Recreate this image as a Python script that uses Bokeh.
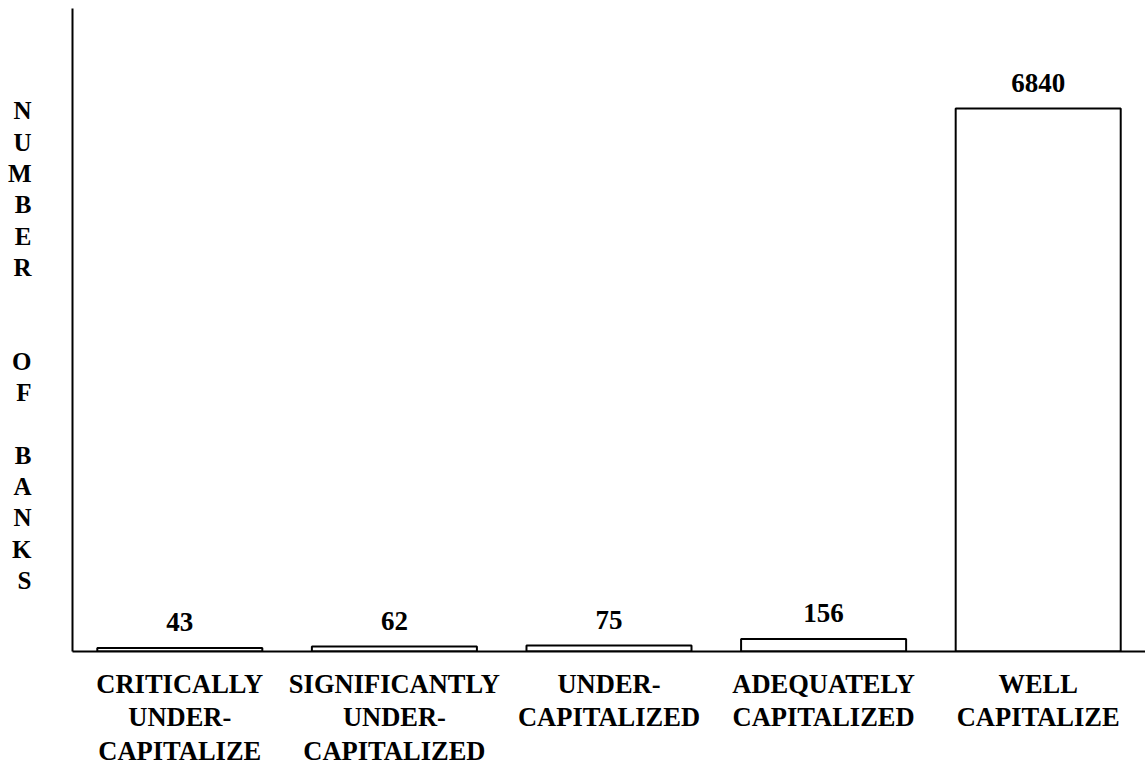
from bokeh.plotting import figure
from bokeh.models import ColumnDataSource, LabelSet, Range1d, FixedTicker
from bokeh.embed import file_html
from bokeh.resources import INLINE

categories = [
    "CRITICALLY\nUNDER-\nCAPITALIZE",
    "SIGNIFICANTLY\nUNDER-\nCAPITALIZED",
    "UNDER-\nCAPITALIZED",
    "ADEQUATELY\nCAPITALIZED",
    "WELL\nCAPITALIZE",
]
counts = [43, 62, 75, 156, 6840]
y_title = "\nN\nU\nM\nB\nE\nR\n\n\nO\nF\n\nB\nA\nN\nK\nS"

FONT = "Liberation Serif"

xs = list(range(len(categories)))
src = ColumnDataSource(dict(
    x=xs,
    count=counts,
    label=[str(c) for c in counts],
))

p = figure(
    width=1145, height=769,
    output_backend="svg", toolbar_location=None,
    x_range=Range1d(-0.5, 4.5), y_range=Range1d(0, 8100),
    min_border_left=72, min_border_right=0, min_border_top=8, min_border_bottom=118,
)
p.outline_line_color = None
p.xgrid.grid_line_color = None
p.ygrid.grid_line_color = None
p.background_fill_color = "white"
p.border_fill_color = "white"

for ax in (p.xaxis[0], p.yaxis[0]):
    ax.axis_line_width = 2
    ax.axis_line_color = "black"
    ax.major_tick_line_color = None
    ax.minor_tick_line_color = None
    ax.major_tick_out = 0
    ax.major_tick_in = 0

# x axis: category names as multi-line tick labels
xa = p.xaxis[0]
xa.ticker = FixedTicker(ticks=xs)
xa.major_label_overrides = {i: c for i, c in zip(xs, categories)}
xa.major_label_standoff = 17
xa.major_label_text_font = FONT
xa.major_label_text_font_style = "bold"
xa.major_label_text_font_size = "26.5px"
xa.major_label_text_line_height = 1.125
xa.major_label_text_color = "black"

# y axis: no ticks, stacked-letter title
ya = p.yaxis[0]
ya.ticker = FixedTicker(ticks=[])
ya.major_label_text_font_size = "0px"
ya.major_label_standoff = 0
ya.axis_label = y_title
ya.axis_label_orientation = "horizontal"
ya.axis_label_standoff = 41
ya.axis_label_text_font = FONT
ya.axis_label_text_font_style = "bold"
ya.axis_label_text_font_size = "25px"
ya.axis_label_text_line_height = 1.16
ya.axis_label_text_color = "black"

p.vbar(x="x", top="count", bottom=0, width=0.769, source=src,
       fill_color="white", line_color="black", line_width=2)

p.add_layout(LabelSet(
    x="x", y="count", text="label", source=src, y_offset=26,
    text_align="center", text_baseline="middle",
    text_font=FONT, text_font_style="bold", text_font_size="27px", text_color="black",
))

open("out.html", "w").write(file_html(p, INLINE))
